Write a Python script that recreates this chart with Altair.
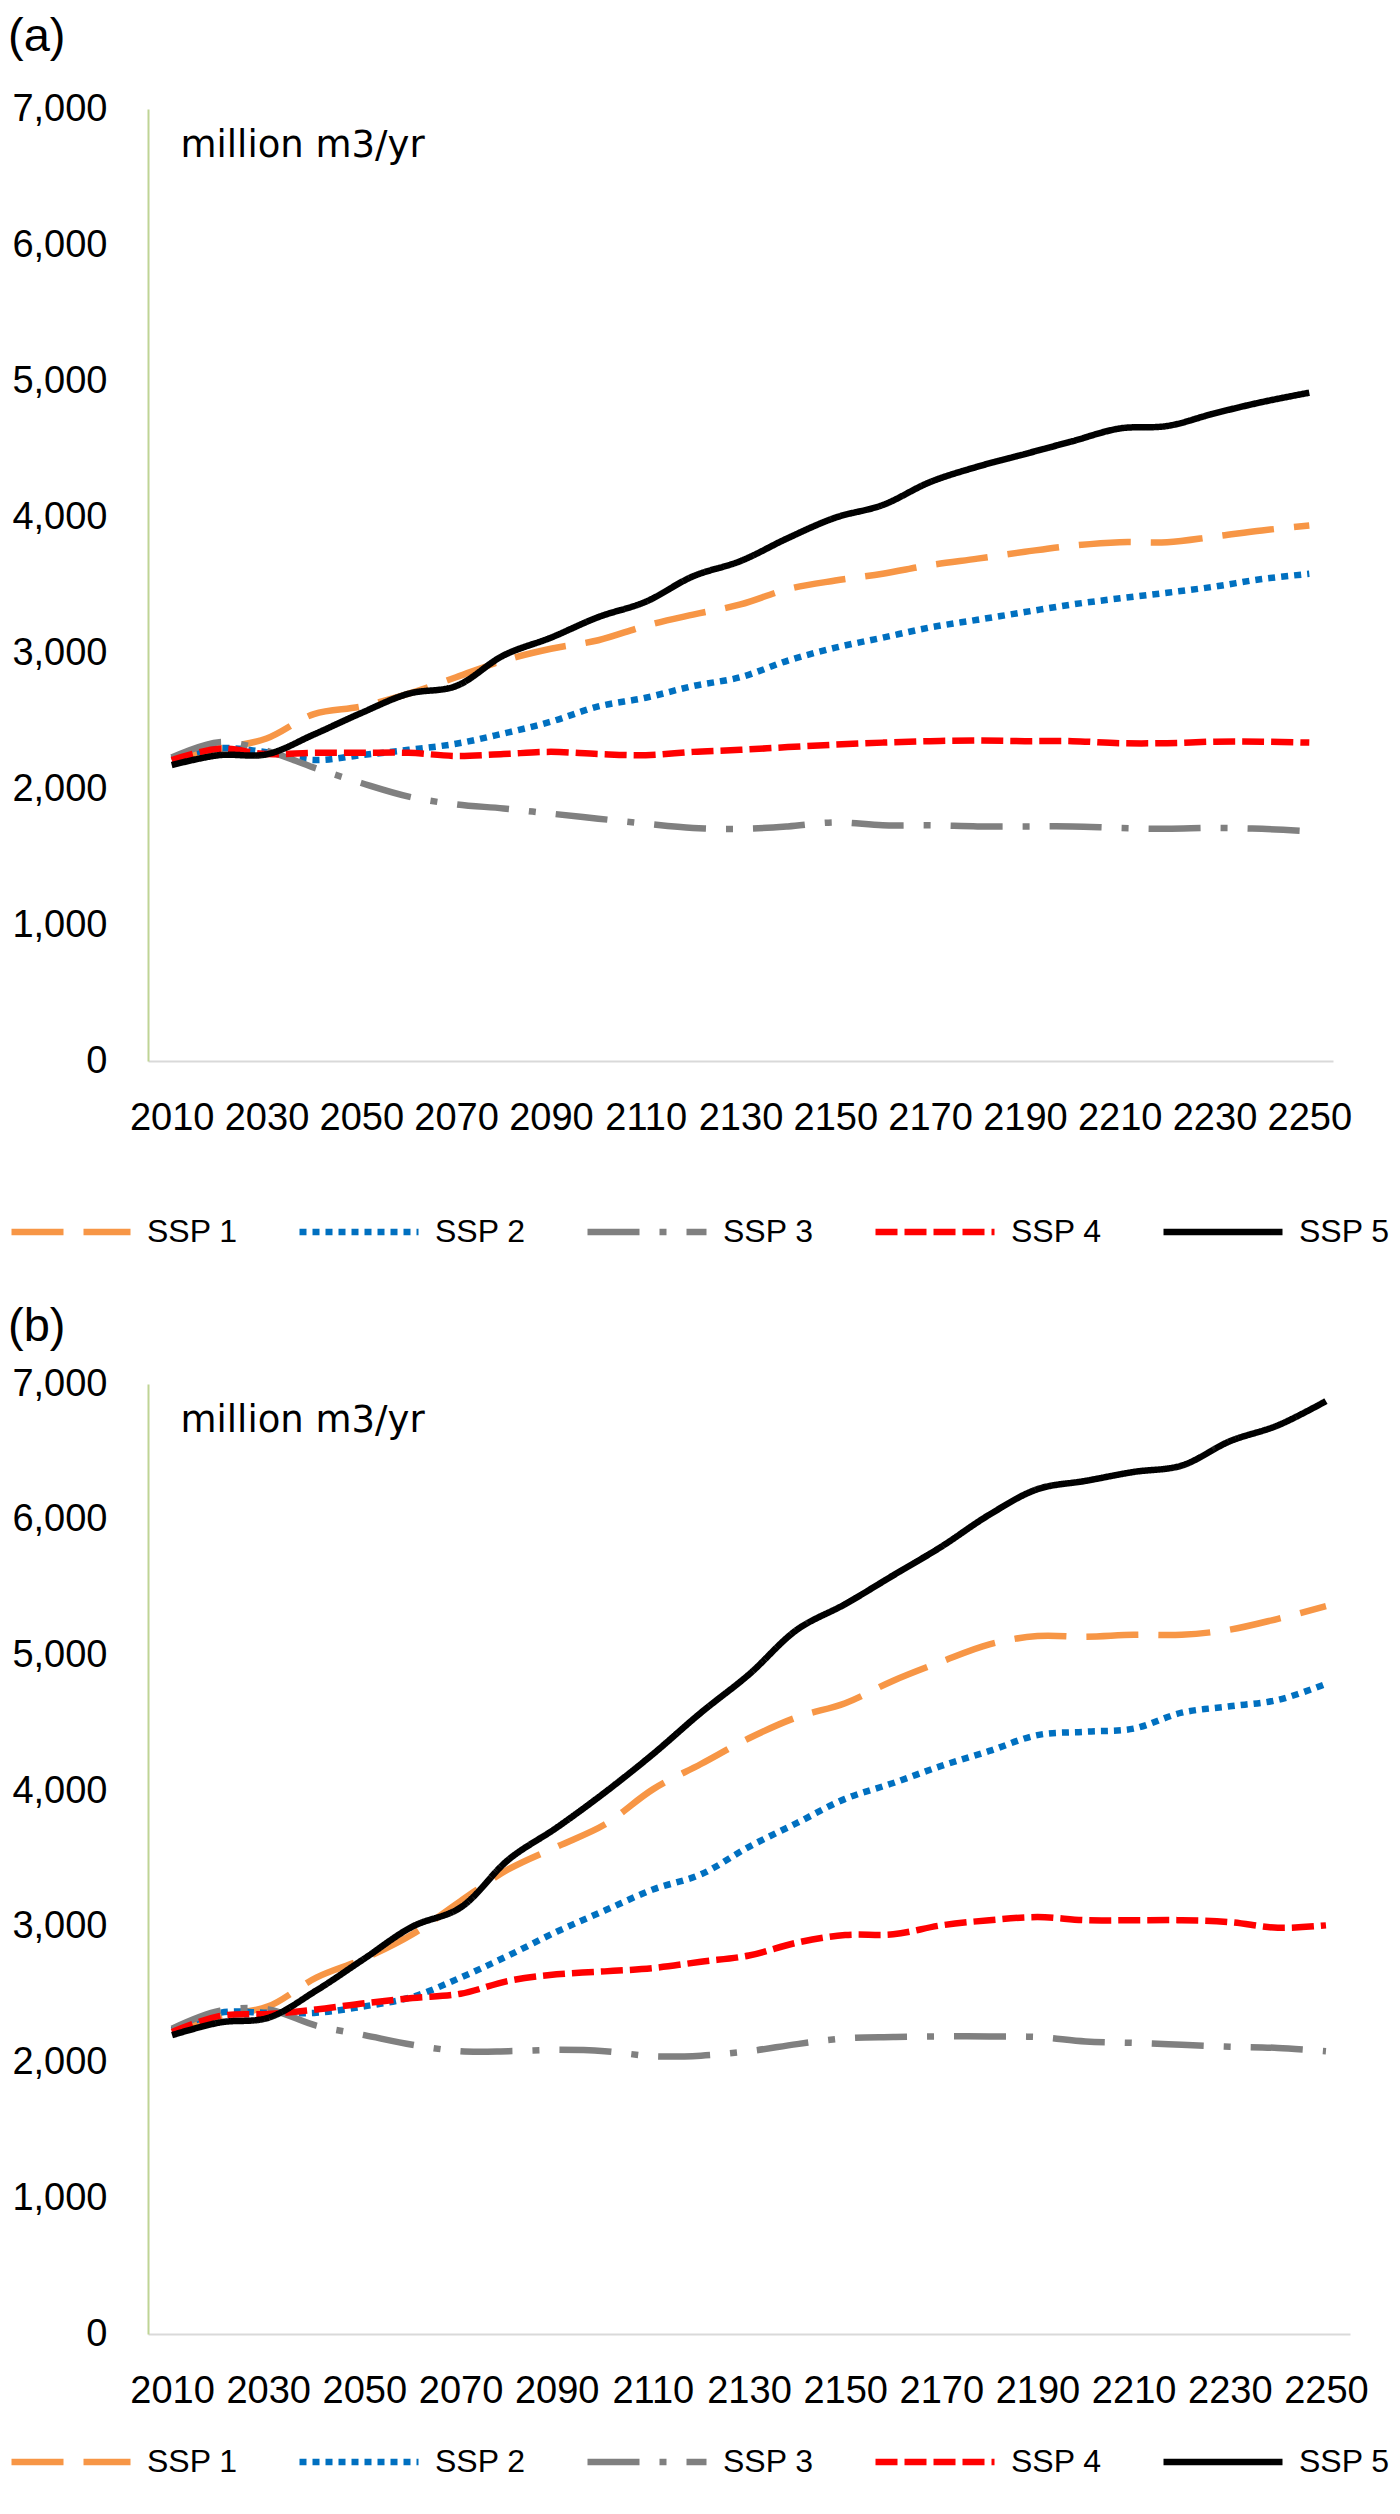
import altair as alt
import pandas as pd

years = list(range(2010, 2251, 10))
tick_years = list(range(2010, 2251, 20))
y_ticks = list(range(0, 7001, 1000))
series = ["SSP 1", "SSP 2", "SSP 3", "SSP 4", "SSP 5"]
colors = ["#F79646", "#0070C0", "#808080", "#FF0000", "#000000"]
dashes = [[52, 20], [7, 6], [52, 20, 7, 20], [22, 7], [1, 0]]

# Panel (a)
a_ssp1 = [2220, 2296, 2371, 2551, 2607, 2701, 2822, 2944, 3031, 3094, 3200, 3282, 3357,
          3470, 3533, 3583, 3646, 3694, 3744, 3789, 3815, 3815, 3856, 3901, 3938]
a_ssp2 = [2220, 2300, 2270, 2213, 2249, 2288, 2333, 2408, 2495, 2607, 2671, 2757, 2822,
          2944, 3039, 3113, 3188, 3244, 3301, 3357, 3402, 3443, 3488, 3544, 3582]
a_ssp3 = [2231, 2344, 2282, 2157, 2044, 1944, 1887, 1857, 1819, 1782, 1745, 1714, 1707,
          1725, 1755, 1733, 1733, 1725, 1725, 1725, 1714, 1707, 1714, 1707, 1690]
a_ssp4 = [2213, 2296, 2257, 2266, 2266, 2266, 2243, 2257, 2273, 2257, 2249, 2273, 2288,
          2308, 2326, 2341, 2352, 2356, 2352, 2352, 2337, 2337, 2348, 2348, 2341]
a_ssp5 = [2176, 2249, 2255, 2401, 2559, 2701, 2757, 2982, 3113, 3264, 3377, 3564, 3676,
          3845, 3995, 4088, 4257, 4370, 4463, 4557, 4651, 4669, 4762, 4845, 4914]

# Panel (b)
b_ssp1 = [2240, 2344, 2414, 2626, 2766, 2945, 3190, 3425, 3590, 3754, 4013, 4200, 4390,
          4545, 4648, 4814, 4954, 5082, 5143, 5138, 5152, 5152, 5190, 5270, 5363]
b_ssp2 = [2240, 2367, 2367, 2367, 2414, 2484, 2626, 2789, 2964, 3120, 3275, 3387, 3590,
          3766, 3943, 4060, 4186, 4296, 4413, 4438, 4461, 4578, 4625, 4672, 4790]
b_ssp3 = [2250, 2382, 2391, 2272, 2202, 2131, 2084, 2084, 2094, 2084, 2047, 2051, 2084,
          2136, 2179, 2188, 2193, 2193, 2188, 2155, 2145, 2131, 2117, 2108, 2084]
b_ssp4 = [2225, 2344, 2358, 2391, 2437, 2476, 2507, 2602, 2650, 2672, 2696, 2743, 2789,
          2884, 2940, 2945, 3011, 3049, 3072, 3049, 3049, 3049, 3035, 2993, 3011]
b_ssp5 = [2202, 2296, 2330, 2531, 2766, 3002, 3142, 3496, 3731, 3990, 4272, 4578, 4860,
          5190, 5378, 5590, 5801, 6037, 6225, 6286, 6352, 6399, 6578, 6695, 6874]

FONT = "Liberation Sans, Arial, sans-serif"
UNIT_FONT = "DejaVu Sans, Open Sans, sans-serif"


def to_frame(vals):
    rows = []
    for s, v in zip(series, vals):
        for yr, val in zip(years, v):
            rows.append({"year": yr, "value": val, "series": s})
    return pd.DataFrame(rows)


def panel(vals, label, width, height, title_offset, col_pad, legend_y):
    legend = alt.Legend(
        title=None, orient="none", legendX=-140, legendY=legend_y,
        direction="horizontal", columns=5, columnPadding=col_pad,
        symbolType="stroke", symbolSize=14161, symbolStrokeWidth=6.5,
        labelFont=FONT, labelFontSize=32, labelColor="black", labelOffset=13,
    )
    return alt.Chart(
        to_frame(vals),
        title=alt.TitleParams(label, anchor="start", frame="bounds", font=FONT,
                              fontSize=47, fontWeight="normal", color="black",
                              offset=title_offset),
    ).mark_line(strokeWidth=6.5, interpolate="catmull-rom").encode(
        x=alt.X("year:Q",
                scale=alt.Scale(domain=[2005, 2255], nice=False, zero=False),
                axis=alt.Axis(values=tick_years, format="d", title=None,
                              domainColor="#D9D9D9", domainWidth=2,
                              labelPadding=38)),
        y=alt.Y("value:Q",
                scale=alt.Scale(domain=[0, 7000], nice=False),
                axis=alt.Axis(values=y_ticks, format=",d", title="million m3/yr",
                              titleAngle=0, titleX=32, titleY=47, titleAlign="left",
                              titleBaseline="alphabetic", titleFont=UNIT_FONT,
                              titleFontSize=37, titleFontWeight="normal",
                              titleColor="black",
                              domainColor="#BFD495", domainWidth=2,
                              labelPadding=41, minExtent=140, maxExtent=140)),
        color=alt.Color("series:N", scale=alt.Scale(domain=series, range=colors),
                        legend=legend),
        strokeDash=alt.StrokeDash("series:N", scale=alt.Scale(domain=series, range=dashes),
                                  legend=legend),
    ).properties(width=width, height=height)


pa = panel([a_ssp1, a_ssp2, a_ssp3, a_ssp4, a_ssp5], "(a)", 1185, 952, 29, 48, 1060)
pb = panel([b_ssp1, b_ssp2, b_ssp3, b_ssp4, b_ssp5], "(b)", 1202, 950, 14, 48, 1015)

chart = alt.vconcat(pa, pb, spacing=55).resolve_scale(
    color="independent", strokeDash="independent"
).resolve_legend(
    color="independent", strokeDash="independent"
).configure(
    padding={"left": 0, "top": 5, "right": 0, "bottom": 0}, background="white"
).configure_view(stroke=None).configure_axis(
    labelFont=FONT, labelFontSize=38, labelColor="black",
    ticks=False, tickSize=0, grid=False,
)

chart.save("out.html", embed_options={"renderer": "svg", "actions": False})
